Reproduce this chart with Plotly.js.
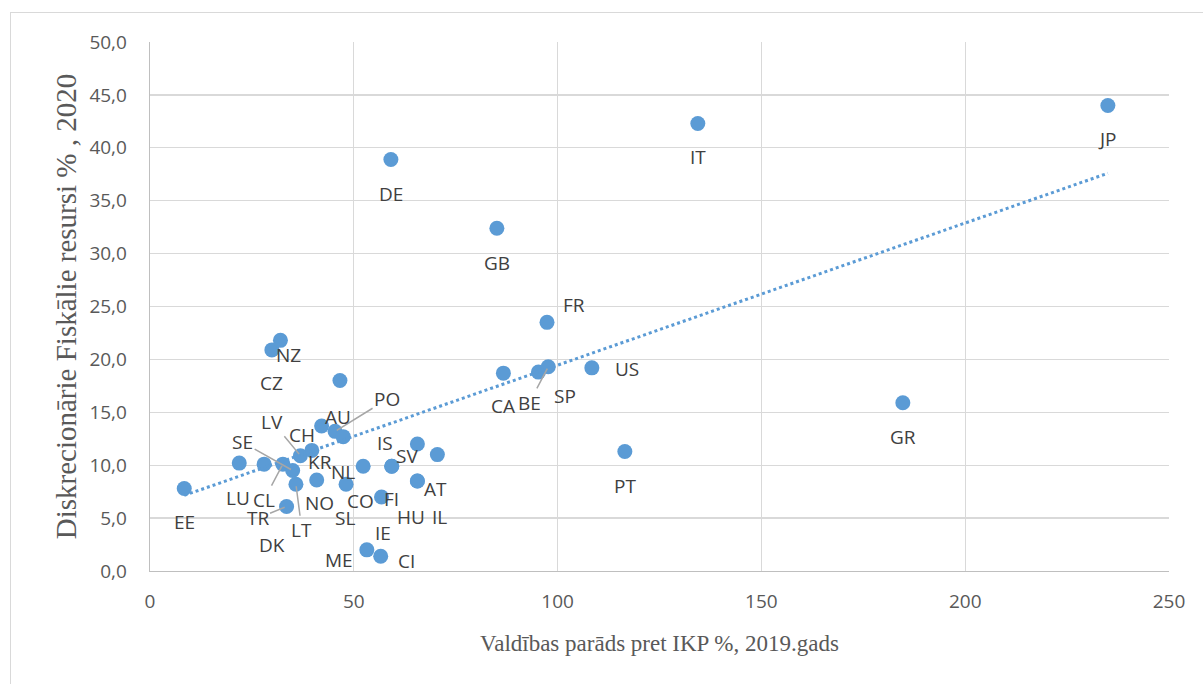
<!DOCTYPE html>
<html>
<head>
<meta charset="utf-8">
<script src="https://cdn.plot.ly/plotly-3.0.1.min.js"></script>
<style>
  html, body { margin: 0; padding: 0; background: #ffffff; overflow: hidden; }
  #wrap { position: relative; width: 1203px; height: 684px; }
  #chart { position: absolute; left: 0; top: 0; width: 1203px; height: 684px; }
  #frame { position: absolute; left: 10px; top: 12px; width: 1200px; height: 680px;
           border: 1px solid #d9d9d9; box-sizing: border-box; pointer-events: none; }
</style>
</head>
<body>
<div id="wrap">
  <div id="chart"></div>
  <div id="frame"></div>
</div>
<script>
// ---- data ----
const countries = ["EE","LU","DK","CL","SE","LT","TR","LV","KR","NO","CH","PO","NL","AU","SL","CO","FI","SV","IS","AT","HU","IL","IE","ME","CI","CZ","NZ","DE","GB","FR","CA","SP","BE","US","PT","IT","JP","GR"];
const govDebt2019 = [8.4,21.9,28.0,32.6,35.0,35.8,33.5,36.9,39.7,40.9,42.1,45.4,47.4,46.6,48.1,52.3,59.3,59.3,65.6,70.5,65.6,65.6,56.8,53.2,56.6,29.9,32.0,59.1,85.1,97.4,86.7,95.3,97.7,108.4,116.5,134.4,235.0,184.7];
const fiscalRes2020 = [7.8,10.2,10.1,10.1,9.5,8.2,6.1,10.9,11.4,8.6,13.7,13.2,12.7,18.0,8.2,9.9,9.9,9.9,12.0,11.0,8.5,8.5,7.0,2.0,1.4,20.9,21.8,38.9,32.4,23.5,18.7,18.8,19.3,19.2,11.3,42.3,44.0,15.9];

// ---- label placement (pixel offsets of label centre from its point; layout only) ----
const labelDx = [0,-1,8,-19,-50,6,-29,-28,8,3,-20,52,0,-2,-1,-3,0,15,-32,-2,-6,22,1,-28,26,0,8,0,0,27,0,27,-19,35,0,0,0,0];
const labelDy = [34,35,81,36,-28,46,12,-34,12,23,9,-32,35,36,34,35,33,-10,-1,34,36,36,36,10,5,33,15,35,35,-17,33,24,36,1,35,34,34,34];
const leaderLine = [0,0,0,1,1,1,1,1,0,0,0,1,0,0,0,0,0,0,0,0,0,0,0,0,0,0,0,0,0,0,0,0,1,0,0,0,0,0];

// ---- linear trendline (least squares over the data) ----
const n = govDebt2019.length;
const mx = govDebt2019.reduce((a,b)=>a+b,0)/n;
const my = fiscalRes2020.reduce((a,b)=>a+b,0)/n;
let sxy = 0, sxx = 0;
for (let i = 0; i < n; i++) { sxy += (govDebt2019[i]-mx)*(fiscalRes2020[i]-my); sxx += (govDebt2019[i]-mx)**2; }
const slope = sxy/sxx, intercept = my - slope*mx;
const xMin = Math.min(...govDebt2019), xMax = Math.max(...govDebt2019);
const trendX = [xMin, xMax];
const trendY = trendX.map(x => intercept + slope*x);

const blue = "#5B9BD5";
const traces = [
  { type: "scatter", mode: "markers", x: govDebt2019, y: fiscalRes2020, text: countries,
    marker: { color: blue, size: 15, line: { width: 0 } }, hoverinfo: "text+x+y", showlegend: false },
  { type: "scatter", mode: "lines", x: trendX, y: trendY,
    line: { color: blue, width: 3, dash: "dot" }, hoverinfo: "skip", showlegend: false }
];

const labelFont = { family: "Open Sans, DejaVu Sans, sans-serif", size: 19, color: "#404040" };
const annotations = countries.map((c, i) => {
  const base = { x: govDebt2019[i], y: fiscalRes2020[i], xref: "x", yref: "y", text: c, font: labelFont };
  if (leaderLine[i]) {
    return Object.assign(base, { showarrow: true, ax: labelDx[i], ay: labelDy[i], axref: "pixel", ayref: "pixel",
      arrowhead: 0, arrowwidth: 1.5, arrowcolor: "#a6a6a6", standoff: 2 });
  }
  return Object.assign(base, { showarrow: false, xshift: labelDx[i], yshift: -labelDy[i] });
});

const tickFont = { family: "Open Sans, DejaVu Sans, sans-serif", size: 19, color: "#595959" };
const xTitleFont = { family: "Liberation Serif, Times New Roman, serif", size: 23, color: "#595959" };
const yTitleFont = { family: "Liberation Serif, Times New Roman, serif", size: 29, color: "#595959" };

const layout = {
  width: 1203, height: 684,
  margin: { l: 150, r: 34, t: 42, b: 113 },
  paper_bgcolor: "rgba(0,0,0,0)", plot_bgcolor: "#ffffff",
  separators: ", ",
  showlegend: false,
  xaxis: {
    range: [0, 250], dtick: 50, tick0: 0,
    showgrid: true, gridcolor: "#d9d9d9", gridwidth: 1.3, zeroline: false,
    showline: true, linecolor: "#bfbfbf", linewidth: 1.3, mirror: false,
    ticks: "outside", ticklen: 13, tickcolor: "rgba(0,0,0,0)",
    tickfont: tickFont,
    title: { text: "Valdības parāds pret IKP %, 2019.gads", font: xTitleFont, standoff: 21 }
  },
  yaxis: {
    range: [0, 50], dtick: 5, tick0: 0, tickformat: ".1f",
    showgrid: true, gridcolor: "#d9d9d9", gridwidth: 1.3, zeroline: false,
    showline: true, linecolor: "#bfbfbf", linewidth: 1.3, mirror: false,
    ticks: "outside", ticklen: 18, tickcolor: "rgba(0,0,0,0)",
    tickfont: tickFont,
    title: { text: "Diskrecionārie Fiskālie resursi % , 2020", font: yTitleFont, standoff: 4 }
  },
  annotations: annotations
};

Plotly.newPlot("chart", traces, layout, { staticPlot: true, displayModeBar: false });
</script>
</body>
</html>
